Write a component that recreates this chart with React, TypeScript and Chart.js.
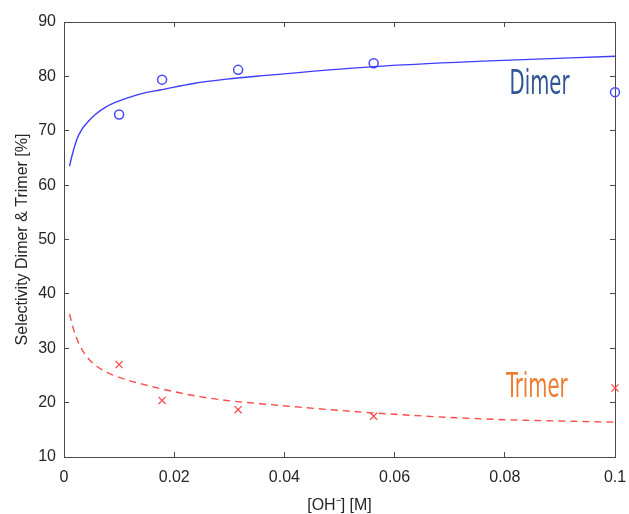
import React, { useEffect, useRef } from "react";
import { Chart, registerables } from "chart.js";

Chart.register(...registerables);

// measured concentrations [OH-] (M)
const concX = [0.01, 0.0178, 0.0316, 0.0562, 0.1];
const dimerY = [73.0, 79.4, 81.2, 82.4, 77.1];
const trimerY = [27.0, 20.4, 18.7, 17.5, 22.7];

// fitted curves
const dimerFitX = [0.001, 0.00145, 0.00236, 0.00327, 0.00448, 0.00568, 0.0075, 0.0093, 0.0117, 0.0148, 0.0174, 0.0235, 0.0295, 0.0356, 0.0563, 0.0761, 0.1];
const dimerFitY = [63.5, 65.4, 68.5, 70.3, 71.8, 73.0, 74.3, 75.2, 76.1, 77.0, 77.5, 78.7, 79.5, 80.1, 81.8, 82.8, 83.7];
const trimerFitX = [0.001, 0.00176, 0.00267, 0.00387, 0.0054, 0.0075, 0.0093, 0.0117, 0.0142, 0.0174, 0.0235, 0.0295, 0.0356, 0.0563, 0.0761, 0.1];
const trimerFitY = [36.3, 33.4, 30.9, 28.8, 27.1, 25.7, 24.9, 24.1, 23.4, 22.6, 21.3, 20.4, 19.8, 18.1, 17.0, 16.4];

const xTicks = [0, 0.02, 0.04, 0.06, 0.08, 0.1];
const xTickLabels = ["0", "0.02", "0.04", "0.06", "0.08", "0.1"];
const yTicks = [10, 20, 30, 40, 50, 60, 70, 80, 90];
const yTickLabels = ["10", "20", "30", "40", "50", "60", "70", "80", "90"];

const seriesNames = ["Dimer", "Trimer"];
const seriesLabelX = [0.0863, 0.0858];
const seriesLabelY = [78.3, 22.7];
const seriesLabelColors = ["#2F5597", "#ED7D31"];

const FONT = "'Liberation Sans', Arial, sans-serif";
const AXIS = "#4a4a4a";
const TEXT = "#262626";

const labelPlugin = {
  id: "seriesLabels",
  afterDatasetsDraw(chart: any) {
    const { ctx, scales } = chart;
    const x = scales.x;
    const y = scales.y;
    seriesNames.forEach((t, i) => {
      const px = x.getPixelForValue(seriesLabelX[i]);
      const py = y.getPixelForValue(seriesLabelY[i]);
      ctx.save();
      ctx.translate(px, py);
      ctx.scale(0.84, 1.28);
      ctx.font = "26px 'Liberation Sans Narrow', 'DejaVu Sans Condensed', sans-serif";
      ctx.fillStyle = seriesLabelColors[i];
      ctx.textAlign = "center";
      ctx.textBaseline = "middle";
      ctx.fillText(t, 0, 0);
      ctx.restore();
    });
  },
};

const zeroPadH = (s: any) => { s.paddingLeft = 0; s.paddingRight = 0; };
const zeroPadV = (s: any) => { s.paddingTop = 0; s.paddingBottom = 0; };

export default function App() {
  const ref = useRef<HTMLCanvasElement | null>(null);

  useEffect(() => {
    if (!ref.current) return;
    const gridInward = { drawOnChartArea: false, drawTicks: true, tickLength: -5, color: AXIS, lineWidth: 1 };
    const border = { display: true, color: AXIS, width: 1 };
    const chart = new Chart(ref.current, {
      type: "scatter",
      data: {
        datasets: [
          {
            label: "Dimer fit",
            data: dimerFitX.map((v, i) => ({ x: v, y: dimerFitY[i] })),
            showLine: true,
            borderColor: "#3c3cff",
            borderWidth: 1.4,
            pointRadius: 0,
            cubicInterpolationMode: "monotone",
          },
          {
            label: "Trimer fit",
            data: trimerFitX.map((v, i) => ({ x: v, y: trimerFitY[i] })),
            showLine: true,
            borderColor: "#ff4d4d",
            borderWidth: 1.4,
            borderDash: [7, 5],
            pointRadius: 0,
            cubicInterpolationMode: "monotone",
          },
          {
            label: "Dimer",
            data: concX.map((v, i) => ({ x: v, y: dimerY[i] })),
            pointStyle: "circle",
            pointRadius: 4.5,
            pointBorderWidth: 1.5,
            borderColor: "#4646ff",
            backgroundColor: "rgba(0,0,0,0)",
            clip: false,
          },
          {
            label: "Trimer",
            data: concX.map((v, i) => ({ x: v, y: trimerY[i] })),
            pointStyle: "crossRot",
            pointRadius: 5,
            pointBorderWidth: 1.3,
            borderColor: "#ff4d4d",
            backgroundColor: "#ff4d4d",
            clip: false,
          },
        ],
      },
      options: {
        animation: false,
        responsive: true,
        maintainAspectRatio: false,
        layout: { padding: 0 },
        plugins: { legend: { display: false }, tooltip: { enabled: false } },
        scales: {
          x: {
            type: "linear",
            position: "bottom",
            min: 0,
            max: 0.1,
            afterBuildTicks: (s: any) => { s.ticks = xTicks.map((v) => ({ value: v })); },
            afterFit: (s: any) => { s.height = 57; zeroPadH(s); },
            ticks: {
              callback: (_v: any, i: number) => xTickLabels[i],
              font: { family: FONT, size: 16 },
              color: TEXT,
              padding: 16,
              maxRotation: 0,
              autoSkip: false,
            },
            grid: gridInward,
            border,
            title: { display: true, text: "[OH\u207B] [M]", font: { family: FONT, size: 16, lineHeight: 1 }, color: TEXT, padding: 0 },
          },
          x2: {
            type: "linear",
            position: "top",
            min: 0,
            max: 0.1,
            afterBuildTicks: (s: any) => { s.ticks = xTicks.map((v) => ({ value: v })); },
            afterFit: (s: any) => { s.height = 22; zeroPadH(s); },
            ticks: { display: false },
            grid: gridInward,
            border,
          },
          y: {
            type: "linear",
            position: "left",
            min: 10,
            max: 90,
            afterBuildTicks: (s: any) => { s.ticks = yTicks.map((v) => ({ value: v })); },
            afterFit: (s: any) => { s.width = 64; zeroPadV(s); },
            ticks: {
              callback: (_v: any, i: number) => yTickLabels[i],
              font: { family: FONT, size: 16 },
              color: TEXT,
              padding: 13,
              autoSkip: false,
            },
            grid: gridInward,
            border,
            title: { display: true, text: "Selectivity Dimer & Trimer [%]", font: { family: FONT, size: 16, lineHeight: 1 }, color: TEXT, padding: { top: 15, bottom: 0 } },
          },
          y2: {
            type: "linear",
            position: "right",
            min: 10,
            max: 90,
            afterBuildTicks: (s: any) => { s.ticks = yTicks.map((v) => ({ value: v })); },
            afterFit: (s: any) => { s.width = 14; zeroPadV(s); },
            ticks: { display: false },
            grid: gridInward,
            border,
          },
        },
      } as any,
      plugins: [labelPlugin],
    });
    return () => chart.destroy();
  }, []);

  return (
    <div style={{ position: "fixed", left: 0, top: 0, width: 629, height: 514, background: "#fff" }}>
      <canvas ref={ref} />
    </div>
  );
}
